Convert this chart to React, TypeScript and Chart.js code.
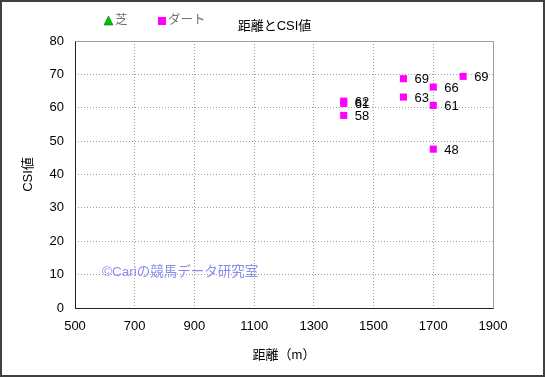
import React, { useEffect, useRef } from "react";
import { Chart, registerables } from "chart.js";

Chart.register(...registerables);

const chartTitle = "距離とCSI値";
const xAxisTitle = "距離（m）";
const yAxisTitle = "CSI値";
const watermark = "©Cariの競馬データ研究室";

const turfLabel = "芝";
const turfX: number[] = [];
const turfY: number[] = [];

const dirtLabel = "ダート";
const dirtX = [1400, 1400, 1400, 1600, 1600, 1700, 1700, 1700, 1800];
const dirtY = [62.0, 61.3, 57.7, 68.7, 63.2, 66.2, 60.7, 47.6, 69.4];

const xTicks = [500, 700, 900, 1100, 1300, 1500, 1700, 1900];
const yTicks = [0, 10, 20, 30, 40, 50, 60, 70, 80];

const FONT = '"Liberation Sans", "Noto Sans CJK JP", sans-serif';

const decorPlugin = {
  id: "decor",
  beforeDraw(chart: any) {
    const ctx = chart.ctx;
    ctx.save();
    ctx.fillStyle = "#ffffff";
    ctx.fillRect(0, 0, chart.width, chart.height);
    ctx.restore();
  },
  beforeDatasetsDraw(chart: any) {
    const { ctx, chartArea } = chart;
    const L = Math.round(chartArea.left) + 0.5;
    const R = Math.round(chartArea.right) + 0.5;
    const T = Math.round(chartArea.top) + 0.5;
    const B = Math.round(chartArea.bottom) + 0.5;
    ctx.save();
    ctx.lineWidth = 1;
    ctx.strokeStyle = "#a0a0a0";
    ctx.beginPath();
    ctx.moveTo(L, T);
    ctx.lineTo(R, T);
    ctx.lineTo(R, B);
    ctx.stroke();
    ctx.strokeStyle = "#202020";
    ctx.beginPath();
    ctx.moveTo(L, T);
    ctx.lineTo(L, B);
    ctx.lineTo(R, B);
    ctx.stroke();
    ctx.fillStyle = "#8c8cf0";
    ctx.font = `13.5px ${FONT}`;
    ctx.textAlign = "left";
    ctx.textBaseline = "middle";
    ctx.fillText(watermark, 102, 272);
    ctx.restore();
  },
  afterDatasetsDraw(chart: any) {
    const { ctx } = chart;
    ctx.save();
    ctx.fillStyle = "#000000";
    ctx.font = `13px ${FONT}`;
    ctx.textAlign = "left";
    ctx.textBaseline = "middle";
    const meta = chart.getDatasetMeta(1);
    meta.data.forEach((el: any, i: number) => {
      ctx.fillText(String(Math.round(dirtY[i])), el.x + 11, el.y + 1);
    });
    ctx.font = `13px ${FONT}`;
    ctx.textAlign = "center";
    ctx.fillText(chartTitle, 274.5, 26);
    ctx.fillStyle = "#00c000";
    ctx.beginPath();
    ctx.moveTo(108.5, 16);
    ctx.lineTo(113, 25);
    ctx.lineTo(104, 25);
    ctx.closePath();
    ctx.fill();
    ctx.strokeStyle = "#008000";
    ctx.lineWidth = 0.6;
    ctx.stroke();
    ctx.fillStyle = "#ff00ff";
    ctx.fillRect(158, 17, 8, 8);
    ctx.fillStyle = "#707070";
    ctx.font = `12.5px ${FONT}`;
    ctx.textAlign = "left";
    ctx.fillText(turfLabel, 115, 21);
    ctx.fillText(dirtLabel, 168, 21);
    ctx.strokeStyle = "#404040";
    ctx.lineWidth = 2;
    ctx.strokeRect(1, 1, chart.width - 2, chart.height - 2);
    ctx.restore();
  },
};

export default function App() {
  const ref = useRef<HTMLCanvasElement | null>(null);
  useEffect(() => {
    document.body.style.margin = "0";
    if (!ref.current) return;
    const chart = new Chart(ref.current, {
      type: "scatter",
      data: {
        datasets: [
          {
            label: turfLabel,
            data: turfX.map((x, i) => ({ x, y: turfY[i] })),
            pointStyle: "triangle",
            backgroundColor: "#00c000",
            borderColor: "#008000",
          },
          {
            label: dirtLabel,
            data: dirtX.map((x, i) => ({ x, y: dirtY[i] })),
            pointStyle: "rect",
            pointRadius: 5,
            pointHoverRadius: 5,
            borderWidth: 0,
            backgroundColor: "#ff00ff",
            borderColor: "#ff00ff",
          },
        ],
      },
      options: {
        animation: false,
        responsive: false,
        layout: { padding: { top: 41, right: 52, left: 0, bottom: 0 } },
        plugins: {
          legend: { display: false },
          title: { display: false },
          tooltip: { enabled: false },
        },
        scales: {
          x: {
            type: "linear",
            min: 500,
            max: 1900,
            afterBuildTicks: (s: any) => {
              s.ticks = xTicks.map((v) => ({ value: v }));
            },
            afterFit: (s: any) => {
              s.height = 69;
            },
            ticks: {
              color: "#000",
              font: { family: FONT, size: 13 },
              padding: 11,
              maxRotation: 0,
              callback: (v: any) => String(v),
            },
            grid: { color: "#a0a0a0", drawTicks: false },
            border: { display: false, dash: [1, 2] },
            title: {
              display: true,
              text: xAxisTitle,
              color: "#000",
              font: { family: FONT, size: 13 },
              padding: { top: 0, bottom: 14 },
            },
          },
          y: {
            type: "linear",
            min: 0,
            max: 80,
            afterBuildTicks: (s: any) => {
              s.ticks = yTicks.map((v) => ({ value: v }));
            },
            afterFit: (s: any) => {
              s.width = 75;
            },
            ticks: {
              color: "#000",
              font: { family: FONT, size: 13 },
              padding: 11,
              callback: (v: any) => String(v),
            },
            grid: { color: "#a0a0a0", drawTicks: false },
            border: { display: false, dash: [1, 2] },
            title: {
              display: true,
              text: yAxisTitle,
              color: "#000",
              font: { family: FONT, size: 13 },
              padding: { top: 21, bottom: 0 },
            },
          },
        },
      },
      plugins: [decorPlugin],
    } as any);
    return () => chart.destroy();
  }, []);
  return <canvas ref={ref} width={545} height={377} style={{ display: "block" }} />;
}
